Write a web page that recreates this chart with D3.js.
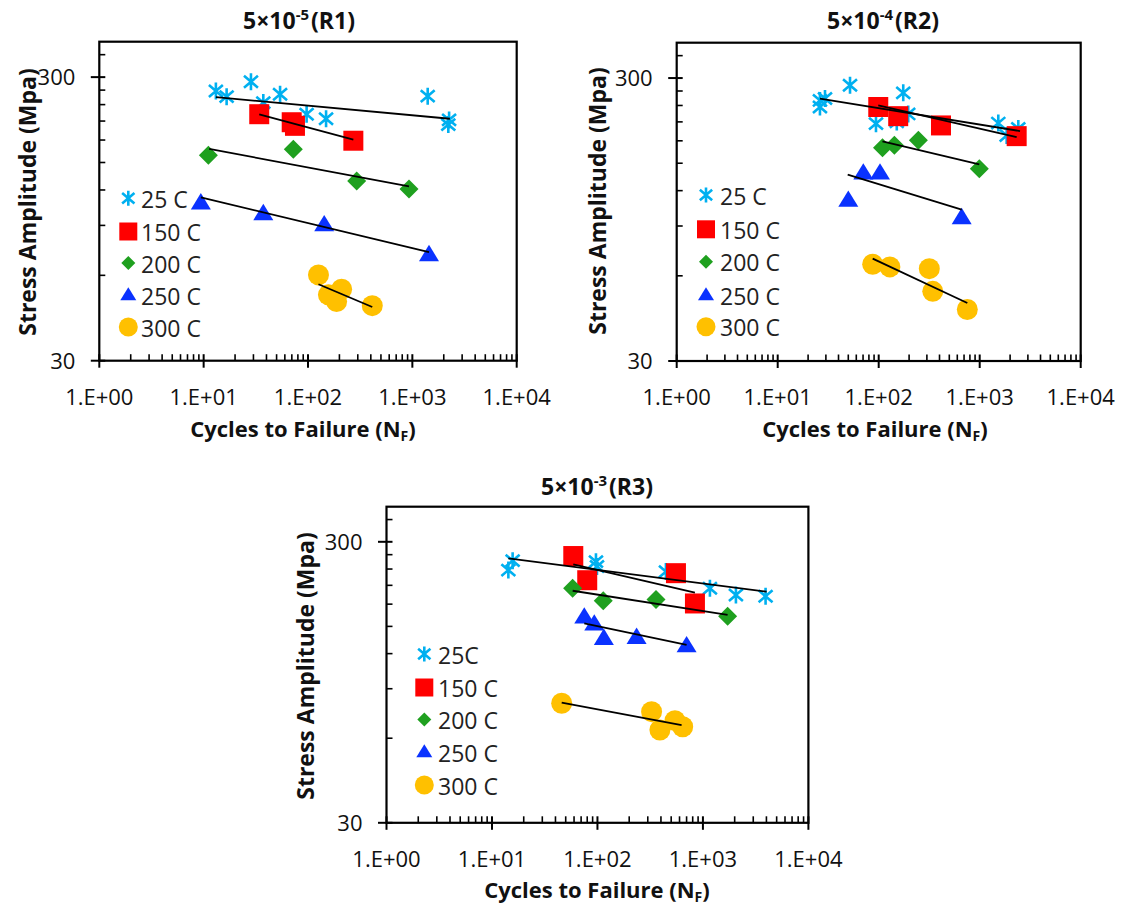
<!DOCTYPE html>
<html><head><meta charset="utf-8">
<script src="https://cdn.jsdelivr.net/npm/d3@7/dist/d3.min.js"></script>
<style>body{margin:0;background:#fff}svg{display:block}text{font-family:"Open Sans",Lato,sans-serif}</style>
</head><body><svg id="c" width="1125" height="909"></svg>
<script>
// ---------- DATA (Cycles to failure N, Stress amplitude MPa) ----------
const seriesNames = ["25 C","150 C","200 C","250 C","300 C"];
const seriesNamesR3 = ["25C","150 C","200 C","250 C","300 C"];
const xTickLabels = ["1.E+00","1.E+01","1.E+02","1.E+03","1.E+04"];
const yTickLabels = ["30","300"];
const xTickValues = [1,10,100,1000,10000];
const yTickValues = [30,300];

// R1 : 5x10^-5
const r1_25C  = [[13.1,268],[16.6,256],[28.4,289],[37.3,244],[54,261],[97,222],[149,214],[1403,257],[2211,204],[2250,212]];
const r1_150C = [[34.1,222],[69.8,208],[75,202],[272,179]];
const r1_200C = [[11.1,159],[72.3,167],[293,129],[929,121]];
const r1_250C = [[9.4,108],[37.3,99],[143,90.5],[1444,71]];
const r1_300C = [[126,60.2],[210,53.6],[157,51.2],[188,48.5],[413,46.9]];
const r1_trends = [[[13.1,255],[2290,214]],[[34.1,221.5],[272,180.7]],[[11.3,167.5],[929,123.6]],[[9.4,113],[1444,72.4]],[[126,55.8],[413,46.4]]];

// R2 : 5x10^-4
const r2_25C  = [[26.2,237],[26.2,250],[29.4,254],[52,283],[175,266],[94,207],[151,210],[196,224],[1528,208],[2411,199],[1849,188]];
const r2_150C = [[99,237],[156,220],[414,204],[2323,187]];
const r2_200C = [[109,170],[143,173.5],[247,181],[991,143.5]];
const r2_250C = [[50,111],[70.4,138.5],[103,138.5],[663,96.3]];
const r2_300C = [[87.2,65.9],[129,64.5],[317,63.6],[343,52.9],[754,45.6]];
const r2_trends = [[[26.2,253.6],[2507,194.9]],[[99,240],[2323,185.6]],[[109,179.2],[991,148.6]],[[49.3,136.7],[663,102.8]],[[87.2,69],[754,48.1]]];

// R3 : 5x10^-3
const r3_25C  = [[14.3,238],[15.7,257],[96.8,255],[99,245],[446,235],[1165,205],[2055,194],[3927,192]];
const r3_150C = [[59,267],[80,219],[555,232],[840,181]];
const r3_200C = [[58.2,205],[113.5,185],[359,187],[1714,163]];
const r3_250C = [[75,162],[93.3,153],[115,136],[235,137],[700,128]];
const r3_300C = [[45.8,79.9],[326,74.6],[391,64.2],[543,69.3],[643,65.9]];
const r3_trends = [[[14.3,262],[4017,199.3]],[[59,249.5],[840,197.7]],[[58.2,200.9],[1714,164.7]],[[75,153.8],[700,128.8]],[[45.8,80.3],[628,66.8]]];

// ---------- STYLE ----------
const colors = ["#00B0F0","#FF0000","#1FA01F","#0A32FF","#FFC000"];
const shapes = ["asterisk","square","diamond","triangle","circle"];

const panels = [
  {title:["5×10","-5","(R1)"], data:[r1_25C,r1_150C,r1_200C,r1_250C,r1_300C], trends:r1_trends, names:seriesNames,
   L:99.3,R:516.7,T:41.7,B:360.7, titleX:299,titleY:29, xTitleX:303,xTitleY:437, yTitleX:28,yTitleY:202,
   legX:128.3, legTextX:141, legY:[198.3,231.5,263,295,327]},
  {title:["5×10","-4","(R2)"], data:[r2_25C,r2_150C,r2_200C,r2_250C,r2_300C], trends:r2_trends, names:seriesNames,
   L:676.7,R:1080.7,T:42.7,B:361, titleX:883,titleY:29, xTitleX:875,xTitleY:437, yTitleX:598,yTitleY:201,
   legX:706, legTextX:720, legY:[195,229.3,261.7,295,326.7]},
  {title:["5×10","-3","(R3)"], data:[r3_25C,r3_150C,r3_200C,r3_250C,r3_300C], trends:r3_trends, names:seriesNamesR3,
   L:386.5,R:808.4,T:506.7,B:822.8, titleX:597,titleY:495, xTitleX:597,xTitleY:898, yTitleX:306,yTitleY:666,
   legX:424.3, legTextX:438, legY:[654,687.5,719.5,752,785]}
];

function shapePath(type, s){
  const h=s/2;
  if(type==="square") return `M${-h},${-h}H${h}V${h}H${-h}Z`;
  if(type==="diamond") return `M0,${-h}L${h},0L0,${h}L${-h},0Z`;
  if(type==="triangle"){const th=s*0.82;return `M0,${-th*0.6}L${h},${th*0.4}L${-h},${th*0.4}Z`;}
  if(type==="asterisk"){const a=h*0.82;return `M0,${-h}V${h}M${-a},${-a*0.85}L${a},${a*0.85}M${-a},${a*0.85}L${a},${-a*0.85}`;}
  return "";
}
function drawMarker(g, type, color, x, y, s){
  if(type==="circle"){g.append("circle").attr("cx",x).attr("cy",y).attr("r",s/2).attr("fill",color);}
  else if(type==="asterisk"){g.append("path").attr("transform",`translate(${x},${y})`).attr("d",shapePath(type,s)).attr("fill","none").attr("stroke",color).attr("stroke-width",2.6);}
  else {g.append("path").attr("transform",`translate(${x},${y})`).attr("d",shapePath(type,s)).attr("fill",color);}
}

const svg = d3.select("#c");
const plotSizes = [17,20,19,20,21];
const legSizes  = [15,18,14,16,19];

panels.forEach(p=>{
  const x = d3.scaleLog().domain([1,10000]).range([p.L,p.R]);
  const y = d3.scaleLog().domain([30,400]).range([p.B,p.T]);
  const g = svg.append("g");

  // minor ticks
  const xMinor=[]; for(let d=1;d<10000;d*=10){for(let k=2;k<=9;k++) xMinor.push(d*k);}
  g.selectAll(null).data(xMinor).enter().append("line")
    .attr("x1",d=>x(d)).attr("x2",d=>x(d)).attr("y1",p.B).attr("y2",p.B-6.5).attr("stroke","#000").attr("stroke-width",1.6);
  const yMinor=[60,90,120,150,180,210,240,270,360];
  g.selectAll(null).data(yMinor).enter().append("line")
    .attr("y1",d=>y(d)).attr("y2",d=>y(d)).attr("x1",p.L).attr("x2",p.L+6).attr("stroke","#000").attr("stroke-width",1.6);
  // major ticks
  g.selectAll(null).data(xTickValues).enter().append("line")
    .attr("x1",d=>x(d)).attr("x2",d=>x(d)).attr("y1",p.B-6.5).attr("y2",p.B+7).attr("stroke","#000").attr("stroke-width",2);
  g.selectAll(null).data(yTickValues).enter().append("line")
    .attr("y1",d=>y(d)).attr("y2",d=>y(d)).attr("x1",p.L-8.5).attr("x2",p.L+6).attr("stroke","#000").attr("stroke-width",2);
  // frame
  g.append("rect").attr("x",p.L).attr("y",p.T).attr("width",p.R-p.L).attr("height",p.B-p.T)
    .attr("fill","none").attr("stroke","#000").attr("stroke-width",2.2);

  // tick labels
  g.selectAll(null).data(xTickValues).enter().append("text")
    .attr("x",d=>x(d)).attr("y",p.B+44).attr("text-anchor","middle").attr("font-size",22).attr("fill","#111")
    .text((d,i)=>xTickLabels[i]);
  g.selectAll(null).data(yTickValues).enter().append("text")
    .attr("x",p.L-24).attr("y",d=>y(d)+8).attr("text-anchor","end").attr("font-size",22).attr("fill","#111")
    .text((d,i)=>yTickLabels[i]);

  // markers
  p.data.forEach((ser,si)=>{
    ser.forEach(pt=>drawMarker(g,shapes[si],colors[si],x(pt[0]),y(pt[1]),plotSizes[si]));
  });
  // trendlines
  const line = d3.line().x(d=>x(d[0])).y(d=>y(d[1]));
  p.trends.forEach(t=>{
    g.append("path").attr("d",line(t)).attr("fill","none").attr("stroke","#000").attr("stroke-width",1.8);
  });

  // legend
  p.names.forEach((nm,si)=>{
    drawMarker(g,shapes[si],colors[si],p.legX,p.legY[si],legSizes[si]);
    g.append("text").attr("x",p.legTextX).attr("y",p.legY[si]+9.5).attr("font-size",23).attr("fill","#222").text(nm);
  });

  // titles
  const t = g.append("text").attr("x",p.titleX).attr("y",p.titleY).attr("text-anchor","middle")
    .attr("font-size",23).attr("font-weight","bold").attr("fill","#111");
  t.append("tspan").text(p.title[0]);
  t.append("tspan").attr("dy",-9).attr("font-size",15).text(p.title[1]);
  t.append("tspan").attr("dy",9).attr("dx",2).text(p.title[2]);

  const xt = g.append("text").attr("x",p.xTitleX).attr("y",p.xTitleY).attr("text-anchor","middle")
    .attr("font-size",22).attr("font-weight","bold").attr("fill","#111");
  xt.append("tspan").text("Cycles to Failure (N");
  xt.append("tspan").attr("dy",4).attr("font-size",14).text("F");
  xt.append("tspan").attr("dy",-4).text(")");

  g.append("text").attr("transform",`translate(${p.yTitleX},${p.yTitleY}) rotate(-90)`).attr("text-anchor","middle")
    .attr("dy","0.35em").attr("font-size",23).attr("font-weight","bold").attr("fill","#111").text("Stress Amplitude (Mpa)");
});
</script></body></html>
